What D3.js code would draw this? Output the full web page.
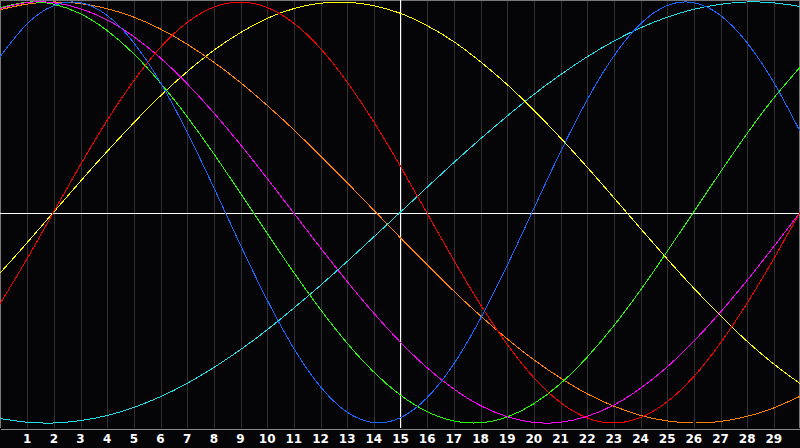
<!DOCTYPE html>
<html>
<head>
<meta charset="utf-8">
<script src="https://cdn.jsdelivr.net/npm/d3@7"></script>
<style>
  html, body { margin: 0; padding: 0; background: #050508; }
  svg { display: block; }
  .tick text { font-family: "DejaVu Sans", sans-serif; font-weight: bold; font-size: 12px; fill: #fff; }
</style>
</head>
<body>
<div id="chartDiv"></div>
<script>
// days along the bottom, 0..30 (labels drawn for 1..29)
var days = d3.range(0, 31);
var dayLabels = d3.range(1, 30);

// values, percent of full swing, one per day 0..30
var blueValues    = [74.0, 89.4, 98.2, 99.7, 93.8, 80.9, 62.1, 38.6, 12.3, -15.0, -41.1, -64.2, -82.5, -94.7, -99.8, -97.6, -88.2, -72.3, -50.8, -25.7, 1.4, 28.3, 53.1, 74.0, 89.4, 98.2, 99.7, 93.8, 80.9, 62.1, 38.6];
var redValues     = [-43.4, -22.3, 0, 22.3, 43.4, 62.3, 78.2, 90.1, 97.5, 100, 97.5, 90.1, 78.2, 62.3, 43.4, 22.3, 0, -22.3, -43.4, -62.3, -78.2, -90.1, -97.5, -100, -97.5, -90.1, -78.2, -62.3, -43.4, -22.3, 0];
var yellowValues  = [-28.8, -14.6, 0, 14.6, 28.8, 42.4, 55.2, 66.7, 76.9, 85.3, 92.1, 96.8, 99.4, 99.9, 98.3, 94.7, 88.9, 81.3, 71.8, 61.0, 48.8, 35.7, 21.8, 7.3, -7.3, -21.8, -35.7, -48.8, -61.0, -71.8, -81.3];
var greenValues   = [97.2, 99.9, 99.0, 94.5, 86.6, 75.6, 61.8, 45.8, 28.2, 9.5, -9.5, -28.2, -45.8, -61.8, -75.6, -86.6, -94.5, -99.0, -99.9, -97.2, -91.0, -81.5, -69.0, -54.1, -37.2, -18.9, 0, 18.9, 37.2, 54.1, 69.0];
var cyanValues    = [-97.9, -99.6, -100.0, -98.9, -96.5, -92.7, -87.6, -81.3, -73.8, -65.3, -55.9, -45.6, -34.8, -23.5, -11.8, 0, 11.8, 23.5, 34.8, 45.6, 55.9, 65.3, 73.8, 81.3, 87.6, 92.7, 96.5, 98.9, 100.0, 99.6, 97.9];
var magentaValues = [96.9, 99.7, 99.7, 96.9, 91.6, 83.7, 73.6, 61.4, 47.6, 32.5, 16.5, 0, -16.5, -32.5, -47.6, -61.4, -73.6, -83.7, -91.6, -96.9, -99.7, -99.7, -96.9, -91.6, -83.7, -73.6, -61.4, -47.6, -32.5, -16.5, 0];
var orangeValues  = [96.3, 99.0, 100.0, 99.3, 96.9, 92.9, 87.3, 80.1, 71.6, 61.9, 51.1, 39.5, 27.1, 14.4, 1.3, -11.8, -24.6, -37.1, -48.9, -59.8, -69.8, -78.5, -86.0, -91.9, -96.3, -99.0, -100.0, -99.3, -96.9, -92.9, -87.3];

var series = [
    {name: "cyan",    color: "#1ee0e8", values: cyanValues},
    {name: "yellow",  color: "#ffff00", values: yellowValues},
    {name: "orange",  color: "#ff8000", values: orangeValues},
    {name: "green",   color: "#22ff00", values: greenValues},
    {name: "magenta", color: "#ff00ff", values: magentaValues},
    {name: "red",     color: "#ff0000", values: redValues},
    {name: "blue",    color: "#1466ff", values: blueValues}
];

var outerWidth = 800, outerHeight = 448;
var plotBottom = 428;

var svg = d3.select("#chartDiv")
    .append("svg")
    .attr("width", outerWidth)
    .attr("height", outerHeight);

svg.append("rect")
    .attr("width", outerWidth)
    .attr("height", outerHeight)
    .style("fill", "#050508");

var x = d3.scaleLinear()
    .domain([0, 30])
    .range([0, 800]);

var y = d3.scaleLinear()
    .domain([-100, 100])
    .range([423, 2]);

// vertical day grid
var grid = svg.append("g")
    .attr("class", "grid")
    .attr("transform", "translate(0," + plotBottom + ")")
    .call(d3.axisBottom(x).tickValues(dayLabels).tickSize(-plotBottom).tickFormat(""));
grid.select(".domain").remove();
grid.selectAll(".tick line")
    .attr("transform", "translate(0.5,0)")
    .style("stroke", "#323235")
    .style("shape-rendering", "crispEdges");

// border left / top / right
svg.append("path")
    .attr("d", "M0.5," + plotBottom + "V0.5H799.5V" + plotBottom)
    .style("fill", "none")
    .style("stroke", "#7a7a7a")
    .style("shape-rendering", "crispEdges");

// centre cross (today + zero line)
svg.append("line")
    .attr("x1", 0).attr("x2", 800)
    .attr("y1", Math.round(y(0)) + 0.5).attr("y2", Math.round(y(0)) + 0.5)
    .style("stroke", "#fff")
    .style("shape-rendering", "crispEdges");
svg.append("line")
    .attr("x1", x(15) + 0.5).attr("x2", x(15) + 0.5)
    .attr("y1", 0).attr("y2", plotBottom)
    .style("stroke", "#fff")
    .style("shape-rendering", "crispEdges");

var line = d3.line()
    .x(function(d, i) { return x(days[i]); })
    .y(function(d) { return y(d); })
    .curve(d3.curveNatural);

svg.selectAll(".wave")
    .data(series)
    .enter().append("path")
    .attr("class", "wave")
    .attr("d", function(s) { return line(s.values); })
    .style("fill", "none")
    .style("stroke", function(s) { return s.color; })
    .style("stroke-width", 1)
    .style("shape-rendering", "crispEdges");

// bottom axis with day numbers
var xAxis = d3.axisBottom(x)
    .tickValues(dayLabels)
    .tickSize(0)
    .tickPadding(6)
    .tickSizeOuter(0);

var xAxisGroup = svg.append("g")
    .attr("class", "x-axis")
    .attr("transform", "translate(0," + (plotBottom + 0.5) + ")")
    .call(xAxis);
xAxisGroup.select(".domain")
    .style("stroke", "#8a8a8a")
    .style("shape-rendering", "crispEdges");
</script>
</body>
</html>
